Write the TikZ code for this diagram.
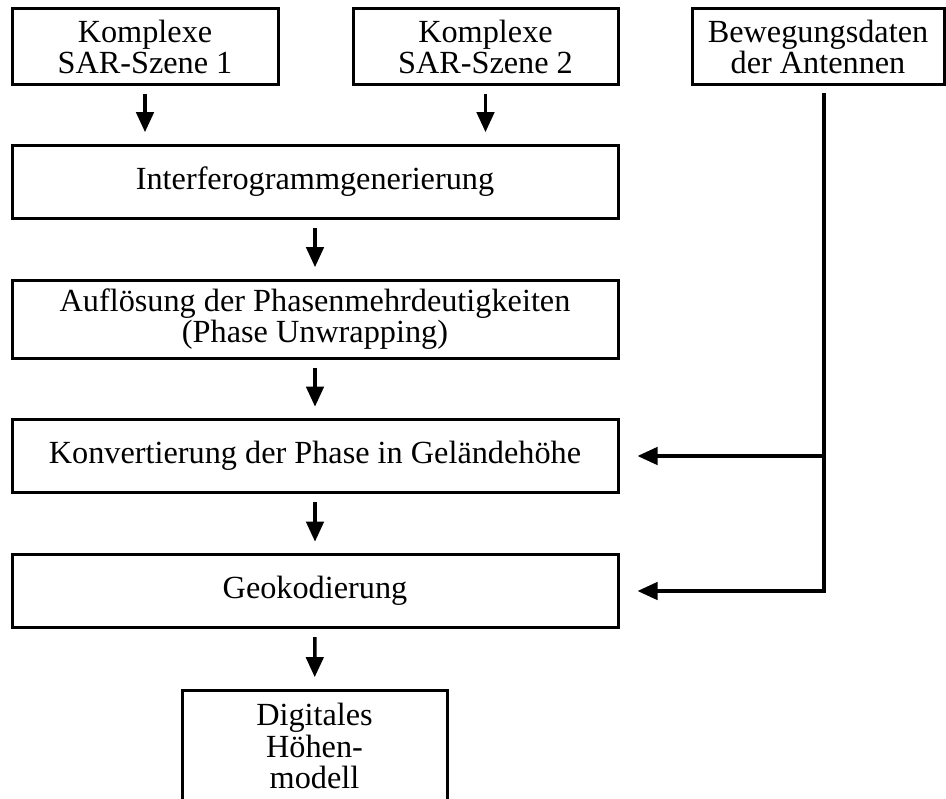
\documentclass[tikz,border=0pt]{standalone}
\usepackage{fontspec}
\setmainfont{Liberation Serif}
\usetikzlibrary{arrows.meta,calc}
\begin{document}
\begin{tikzpicture}[x=0.75pt,y=-0.75pt,
  box/.style={draw,line width=2.25pt,inner sep=0pt,align=center,
    font=\fontsize{24.2}{23.4}\selectfont},
  conn/.style={line width=2.6pt,-{Triangle[width=13pt,length=15pt]},
    shorten <=6pt, shorten >=8.5pt},
]
\useasboundingbox (0,0) rectangle (946,799);
\clip (0,0) rectangle (946,799);
\node[box,minimum width=199.5pt,minimum height=57pt] (s1) at (145,47) {Komplexe\\SAR-Szene 1};
\node[box,minimum width=198.75pt,minimum height=57pt] (s2) at (485.5,47) {Komplexe\\SAR-Szene 2};
\node[box,minimum width=189pt,minimum height=57pt] (bew) at (818,47) {Bewegungsdaten\\der Antennen};
\node[box,minimum width=454.5pt,minimum height=54.75pt] (ifg) at (315,181.5) {Interferogrammgenerierung};
\node[box,minimum width=454.5pt,minimum height=58.5pt] (aufl) at (315,319) {Aufl\"osung der Phasenmehrdeutigkeiten\\(Phase Unwrapping)};
\node[box,minimum width=454.5pt,minimum height=54.75pt] (konv) at (315,456) {Konvertierung der Phase in Gel\"andeh\"ohe};
\node[box,minimum width=454.5pt,minimum height=54.75pt] (geo) at (315,591) {Geokodierung};
\node[box,minimum width=198.75pt,minimum height=84pt] (dhm) at (314.5,746) {Digitales\\H\"ohen-\\modell};
\coordinate (b0) at (824,85);
\coordinate (bk) at (b0 |- konv.east);
\draw[conn] (s1.south) -- (s1.south |- ifg.north);
\draw[conn] (s2.south) -- (s2.south |- ifg.north);
\draw[conn] (ifg) -- (aufl);
\draw[conn] (aufl) -- (konv);
\draw[conn] (konv) -- (geo);
\draw[conn] (geo) -- (dhm);
\draw[conn,shorten >=13.5pt] (b0) |- (geo.east);
\draw[conn,shorten <=0pt,shorten >=13.5pt] (bk) -- (konv.east);
\end{tikzpicture}
\end{document}
